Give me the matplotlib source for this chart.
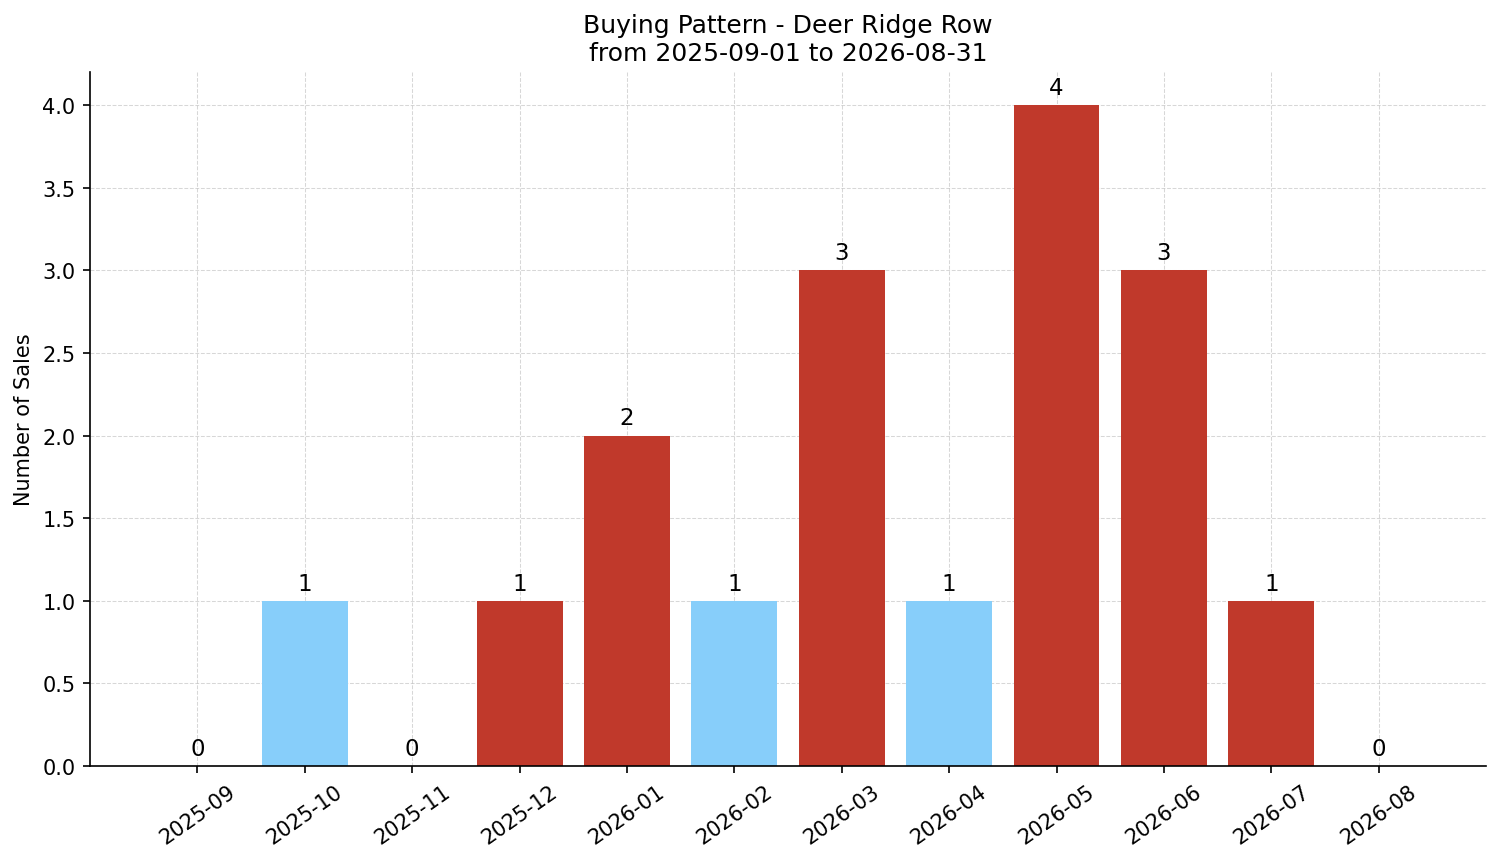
import matplotlib
matplotlib.use('Agg')
import matplotlib.pyplot as plt
import numpy as np

months = ['2025-09', '2025-10', '2025-11', '2025-12', '2026-01', '2026-02',
          '2026-03', '2026-04', '2026-05', '2026-06', '2026-07', '2026-08']
sales = [0, 1, 0, 1, 2, 1, 3, 1, 4, 3, 1, 0]
bar_colors = ['#c0392b', '#87cefa', '#c0392b', '#c0392b', '#c0392b', '#87cefa',
              '#c0392b', '#87cefa', '#c0392b', '#c0392b', '#c0392b', '#c0392b']


def main():
    fig, ax = plt.subplots(figsize=(10.007, 5.753), dpi=150)
    x = np.arange(len(months))
    bars = ax.bar(x, sales, 0.8, color=bar_colors, zorder=2)
    for b, v in zip(bars, sales):
        ax.annotate(f'{v}', (b.get_x() + b.get_width() / 2, v),
                    xytext=(0, 3), textcoords='offset points',
                    ha='center', va='bottom', fontsize=11)

    ax.set_xticks(x)
    ax.set_xticklabels(months, rotation=35)
    ax.set_xlim(-1, 12)
    ax.set_ylim(0, 4.2)
    ax.set_ylabel('Number of Sales')
    ax.set_title('Buying Pattern - Deer Ridge Row\nfrom 2025-09-01 to 2026-08-31', fontsize=12)
    ax.grid(True, linestyle='--', linewidth=0.5, alpha=0.5, zorder=0)
    ax.spines['top'].set_visible(False)
    ax.spines['right'].set_visible(False)

    fig.subplots_adjust(left=0.060, right=0.990, top=0.9154, bottom=0.1112)
    fig.savefig('out.png')
    plt.close()


if __name__ == '__main__':
    main()
